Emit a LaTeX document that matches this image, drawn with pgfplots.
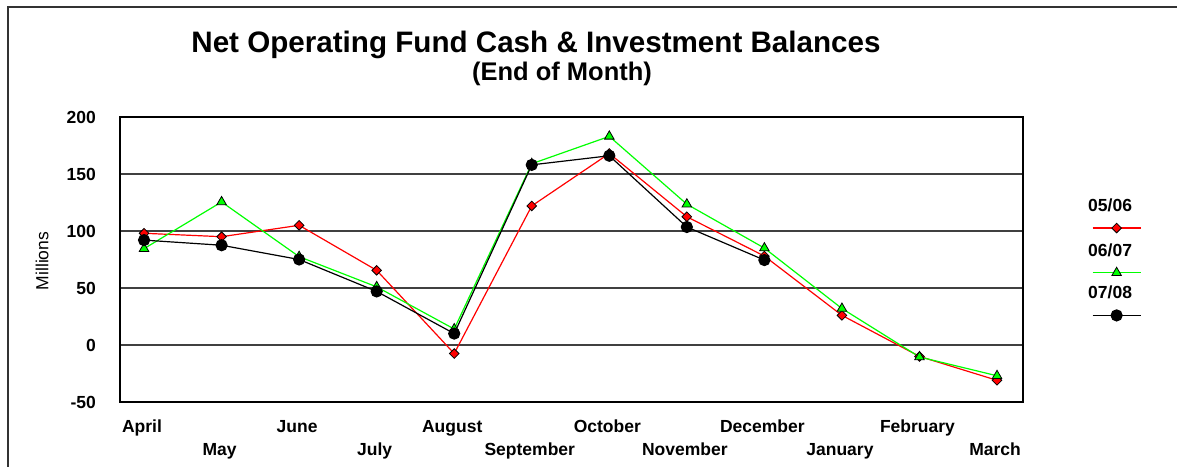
\documentclass[border=0pt]{standalone}
\usepackage{pgfplots}
\pgfplotsset{compat=1.18}
\usepackage{fontspec}
\setmainfont{Liberation Sans}
\definecolor{lgreen}{RGB}{0,255,0}
\definecolor{lred}{RGB}{255,0,0}
\newcommand{\tickfont}{\bfseries\fontsize{17.5bp}{20bp}\selectfont}
\pgfplotsset{
  legimg/.style={legend image code/.code={%
    \node[anchor=base west, inner sep=0, font=\tickfont, text=black] at (0bp,16.7bp) {#1};
    \draw[mark repeat=2, mark phase=2, ##1] plot coordinates {(5bp,0bp) (29bp,0bp) (53bp,0bp)};
  }}
}
\begin{document}
\begin{tikzpicture}
\path[use as bounding box] (0,0) rectangle (1177bp,467bp);
\draw[line width=1.5bp, black!80] (8bp,0) -- (8bp,460bp) -- (1177bp,460bp);
\node[anchor=base, font=\bfseries\fontsize{29.6bp}{33bp}\selectfont, inner sep=0] at (536bp,414.5bp) {Net Operating Fund Cash \& Investment Balances};
\node[anchor=base, font=\bfseries\fontsize{25.5bp}{28bp}\selectfont, inner sep=0] at (562bp,386bp) {(End of Month)};
\node[rotate=90, font=\fontsize{17.5bp}{20bp}\selectfont, inner sep=0] at (42bp,206bp) {Millions};
\begin{axis}[
  at={(120bp,65bp)}, anchor=south west, scale only axis,
  width=903bp, height=285bp,
  xmin=-0.31, xmax=11.335, ymin=-50, ymax=200,
  ytick={-50,0,50,100,150,200},
  ymajorgrids, grid style={black!75, line width=1.3bp},
  axis line style={line width=2bp},
  major tick length=0pt,
  tick label style={font=\tickfont},
  /pgf/number format/assume math mode=true,
  yticklabel style={anchor=east, inner sep=0pt, xshift=-24bp},
  xtick={0,2,4,6,8,10},
  xticklabels={April,June,August,October,December,February},
  xticklabel style={anchor=base, inner sep=0pt, yshift=-31bp, xshift=-2bp},
  extra x ticks={1,3,5,7,9,11},
  extra x tick labels={May,July,September,November,January,March},
  extra x tick style={xticklabel style={yshift=-22bp}},
  legend style={draw=none, fill=none, at={(1.072,0.714)}, anchor=north west, inner sep=0pt, row sep=10.5bp, nodes={inner sep=0pt}},
  legend cell align=left,
]
\addplot[lred, line width=1.2bp, mark=square*, mark size=3.4bp, mark options={rotate=45, fill=lred, draw=black, line width=0.8bp}, legimg=05/06]
  coordinates {(0,98) (1,95) (2,105) (3,65.5) (4,-7.5) (5,122) (6,168) (7,112.5) (8,78) (9,26) (10,-10) (11,-31)};
\addlegendentry{}
\addplot[lgreen, line width=1.2bp, mark=triangle*, mark size=5.5bp, mark options={fill=lgreen, draw=black, line width=0.8bp}, legimg=06/07]
  coordinates {(0,84.5) (1,125.5) (2,77.5) (3,51) (4,14) (5,159) (6,183) (7,123.5) (8,85) (9,32) (10,-10.5) (11,-27)};
\addlegendentry{}
\addplot[black, line width=1.2bp, mark=*, mark size=5.5bp, mark options={fill=black}, legimg=07/08]
  coordinates {(0,92) (1,87.5) (2,75) (3,47) (4,10) (5,158) (6,166) (7,103.5) (8,74.5)};
\addlegendentry{}
\end{axis}
\end{tikzpicture}
\end{document}
